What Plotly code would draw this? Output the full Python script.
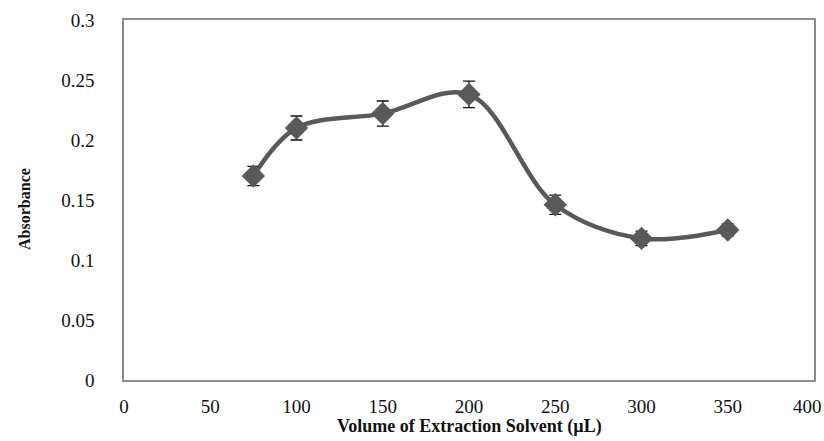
import plotly.graph_objects as go

volume = [75, 100, 150, 200, 250, 300, 350]
absorbance = [0.170, 0.210, 0.222, 0.238, 0.146, 0.118, 0.125]
error = [0.008, 0.010, 0.0105, 0.011, 0.008, 0.006, 0.005]

x_ticks = [0, 50, 100, 150, 200, 250, 300, 350, 400]
x_tick_text = ["0", "50", "100", "150", "200", "250", "300", "350", "400"]
y_ticks = [0, 0.05, 0.1, 0.15, 0.2, 0.25, 0.3]
y_tick_text = ["0", "0.05", "0.1", "0.15", "0.2", "0.25", "0.3"]

x_title = "Volume of Extraction Solvent (µL)"
y_title = "Absorbance"

font_family = "Liberation Serif, Times New Roman, serif"

fig = go.Figure()
fig.add_trace(go.Scatter(
    x=volume, y=absorbance,
    mode="lines+markers",
    line=dict(color="#595959", width=4.5, shape="spline", smoothing=1.0),
    marker=dict(symbol="diamond", size=18, color="#595959"),
    error_y=dict(type="data", array=error, visible=True,
                 color="#111111", thickness=1.3, width=6),
    showlegend=False,
))

# the last x tick label is drawn as an annotation so it can sit inside the page
last_label = x_tick_text[-1]
axis_tick_text = x_tick_text[:-1] + [""]

fig.update_layout(
    width=824, height=441,
    margin=dict(l=124, r=10, t=20, b=61),
    paper_bgcolor="white", plot_bgcolor="white",
    font=dict(family=font_family, size=19, color="#111111"),
    xaxis=dict(
        range=[0, 400], tickvals=x_ticks, ticktext=axis_tick_text,
        showgrid=False, zeroline=False,
        showline=True, linecolor="#8c8c8c", linewidth=1.5, mirror=True,
        ticks="", ticklabelstandoff=8,
        automargin=False,
        tickfont=dict(family=font_family, size=19),
    ),
    yaxis=dict(
        range=[0, 0.3], tickvals=y_ticks, ticktext=y_tick_text,
        showgrid=False, zeroline=False,
        showline=True, linecolor="#8c8c8c", linewidth=1.5, mirror=True,
        ticks="", ticklabelstandoff=24, automargin=False,
        tickfont=dict(family=font_family, size=19),
    ),
    annotations=[
        dict(text=last_label, xref="x", yref="paper",
             x=x_ticks[-1], y=0, xanchor="center", yanchor="top",
             xshift=-7, yshift=-14, showarrow=False,
             font=dict(family=font_family, size=19)),
        dict(text="<b>" + x_title + "</b>", xref="paper", yref="paper",
             x=0.5, y=-0.13, xanchor="center", yanchor="middle",
             showarrow=False, font=dict(family=font_family, size=18)),
        dict(text="<b>" + y_title + "</b>", xref="paper", yref="paper",
             x=-0.145, y=0.475, xanchor="center", yanchor="middle",
             textangle=-90, showarrow=False,
             font=dict(family=font_family, size=16)),
    ],
)

fig.write_html("out.html")
